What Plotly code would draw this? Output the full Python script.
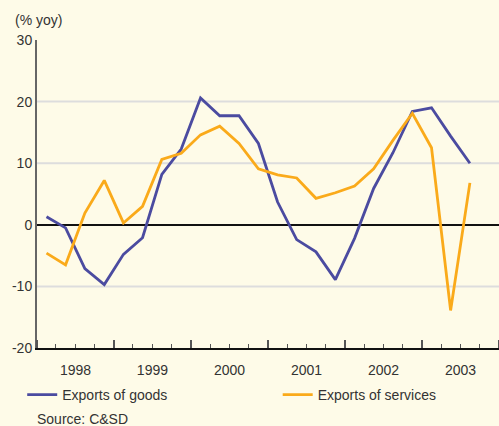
import pandas as pd
import plotly.graph_objects as go

quarters = ["1998Q1", "1998Q2", "1998Q3", "1998Q4",
            "1999Q1", "1999Q2", "1999Q3", "1999Q4",
            "2000Q1", "2000Q2", "2000Q3", "2000Q4",
            "2001Q1", "2001Q2", "2001Q3", "2001Q4",
            "2002Q1", "2002Q2", "2002Q3", "2002Q4",
            "2003Q1", "2003Q2", "2003Q3"]
goods = [1.3, -0.5, -7.1, -9.7, -4.8, -2.1, 8.2, 12.3, 20.6, 17.7, 17.7, 13.2,
         3.7, -2.4, -4.4, -8.9, -2.2, 5.9, 11.7, 18.4, 19.0, 14.4, 10.0]
services = [-4.6, -6.5, 1.9, 7.2, 0.3, 3.0, 10.6, 11.6, 14.6, 16.0, 13.2, 9.1,
            8.1, 7.6, 4.3, 5.2, 6.3, 9.1, 13.7, 18.1, 12.5, -13.9, 6.8]
y_tickvals = [-20, -10, 0, 10, 20, 30]
y_ticktext = ["-20", "-10", "0", "10", "20", "30"]
gridlines = [-10, 10, 20]

# mid-quarter dates
periods = pd.PeriodIndex(quarters, freq="Q")
x = periods.start_time + (periods.end_time - periods.start_time) / 2

BG = "#FEFBE8"
FONT = "Liberation Sans, Arial, sans-serif"
BLUE = "#4B4BA0"
ORANGE = "#FAAA1A"
TXT = "#333333"

fig = go.Figure()
fig.add_trace(go.Scatter(x=x, y=goods, mode="lines", name="Exports of goods",
                         line=dict(color=BLUE, width=2.8), legend="legend"))
fig.add_trace(go.Scatter(x=x, y=services, mode="lines", name="Exports of services",
                         line=dict(color=ORANGE, width=2.8), legend="legend2"))

for g in gridlines:
    fig.add_shape(type="line", xref="paper", x0=0, x1=1, yref="y", y0=g, y1=g,
                  line=dict(color="#DDDDDD", width=2), layer="below")

leg_common = dict(orientation="h", yanchor="middle", xanchor="left",
                  bgcolor="rgba(0,0,0,0)", font=dict(size=14, color=TXT),
                  itemwidth=30, borderwidth=0)

fig.update_layout(
    width=499, height=426,
    margin=dict(l=37, r=0, t=40, b=78, autoexpand=False),
    paper_bgcolor=BG, plot_bgcolor=BG,
    font=dict(family=FONT, size=14, color=TXT),
    showlegend=True,
    legend=dict(x=-0.032, y=-0.153, **leg_common),
    legend2=dict(x=0.521, y=-0.153, **leg_common),
    annotations=[
        dict(text="(% yoy)", xref="paper", yref="paper", x=-0.052, y=1.065,
             xanchor="left", yanchor="middle", showarrow=False,
             font=dict(size=14, color=TXT)),
        dict(text="Source: C&SD", xref="paper", yref="paper", x=-0.0045, y=-0.2305,
             xanchor="left", yanchor="middle", showarrow=False,
             font=dict(size=14, color=TXT)),
    ],
)

fig.update_xaxes(
    type="date",
    range=["1998-01-01", "2004-01-01"],
    dtick="M12", tick0="1998-01-01", tickformat="%Y", ticklabelmode="period",
    ticks="inside", ticklen=8, tickwidth=1.5, tickcolor="#555555",
    minor=dict(dtick="M3", ticks="inside", ticklen=4, tickwidth=1.2, tickcolor="#555555"),
    showline=True, linecolor="#111111", linewidth=2,
    showgrid=False, zeroline=False,
    ticklabelstandoff=8,
    tickfont=dict(size=14, color=TXT),
)
fig.update_yaxes(
    range=[-20, 30], tickvals=y_tickvals, ticktext=y_ticktext,
    showgrid=False, zeroline=True, zerolinecolor="#111111", zerolinewidth=2,
    showline=True, linecolor="#666666", linewidth=2, ticks="",
    tickfont=dict(size=14, color=TXT),
)

fig.write_html(
    "out.html",
    config={"displayModeBar": False},
    post_script="document.body.style.margin='0';document.body.style.background='#FEFBE8';",
)
